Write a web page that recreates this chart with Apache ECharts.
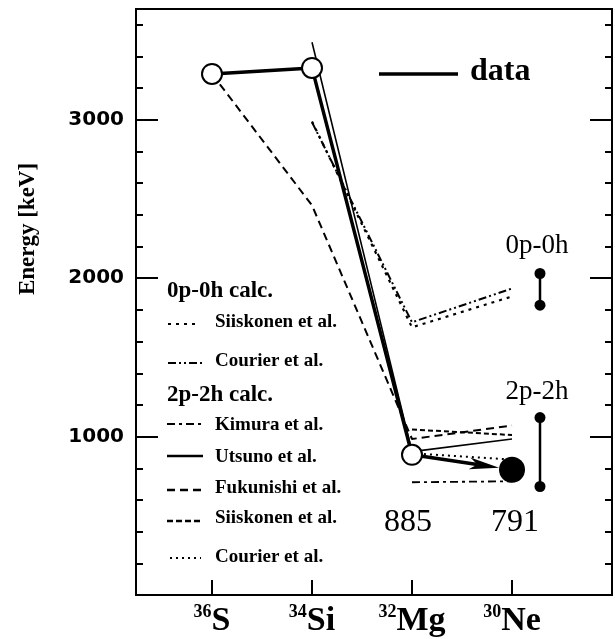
<!DOCTYPE html>
<html>
<head>
<meta charset="utf-8">
<script src="https://cdn.jsdelivr.net/npm/echarts@6/dist/echarts.min.js"></script>
<style>
  html, body { margin: 0; padding: 0; background: #fff; }
  #main { width: 615px; height: 639px; }
</style>
</head>
<body>
<div id="main"></div>
<script>
// nuclei along the x axis (mass number + element)
const massNumbers = ['36', '34', '32', '30'];
const elements = ['S', 'Si', 'Mg', 'Ne'];
const xPos = [1, 2, 3, 4];

// experimental 2+ energies (keV)
const dataExp = [3290, 3328, 885, 791];

// 0p-0h calculations
const siiskonen0 = [null, 2990, 1690, 1885];
const courier0 = [null, 2985, 1722, 1935];

// 2p-2h calculations
const kimura2 = [null, null, 712, 718];
const utsuno2 = [null, 3490, 905, 985];
const fukunishi2 = [3290, 2460, 985, 1070];
const siiskonen2 = [null, null, 1045, 1010];
const courier2 = [null, null, 895, 855];

// ranges drawn right of 30Ne
const range0p0h = [2030, 1830];
const range2p2h = [1120, 685];
const rangeX = 4.28;

const yMajorTicks = [1000, 2000, 3000];
const yMinorTicks = [200, 400, 600, 800, 1200, 1400, 1600, 1800, 2200, 2400, 2600, 2800, 3200, 3400, 3600];

const serif = "'Liberation Serif', 'DejaVu Serif', serif";
const neSize = 26;

function pairs(vals) {
  return vals.map((v, i) => v == null ? null : [xPos[i], v]).filter(Boolean);
}

function calcLine(vals, dash, width) {
  return {
    type: 'line',
    data: pairs(vals),
    symbol: 'none',
    silent: true,
    z: 2,
    lineStyle: { color: '#000', width: width, type: dash }
  };
}

const chart = echarts.init(document.getElementById('main'));

const yBase = { type: 'value', min: 0, max: 3700, splitLine: { show: false } };

const option = {
  animation: false,
  grid: { left: 136, right: 3, top: 9, bottom: 44, show: true, borderColor: '#000', borderWidth: 2 },
  xAxis: [
    {
      type: 'value', min: 0.24, max: 5, position: 'bottom',
      splitLine: { show: false },
      axisLine: { lineStyle: { color: '#000', width: 2 } },
      axisTick: { inside: true, length: 15, customValues: xPos, lineStyle: { color: '#000', width: 2 } },
      axisLabel: {
        customValues: xPos,
        margin: 8,
        formatter: function (v) {
          const i = xPos.indexOf(v);
          return '{sup|' + massNumbers[i] + '}{el|' + elements[i] + '}';
        },
        rich: {
          sup: { fontFamily: serif, fontWeight: 'bold', fontSize: 18, color: '#000', verticalAlign: 'top', lineHeight: 36 },
          el: { fontFamily: serif, fontWeight: 'bold', fontSize: 34, color: '#000', lineHeight: 36 }
        }
      }
    }
  ],
  yAxis: [
    Object.assign({}, yBase, {
      position: 'left',
      axisLine: { show: true, lineStyle: { color: '#000', width: 2 } },
      axisTick: { inside: true, length: 22, customValues: yMajorTicks, lineStyle: { color: '#000', width: 2 } },
      axisLabel: {
        customValues: yMajorTicks, margin: 12, color: '#000',
        formatter: function (v) { return String(v); },
        fontFamily: "'DejaVu Sans', sans-serif", fontWeight: 'bold', fontSize: 20
      }
    }),
    Object.assign({}, yBase, {
      position: 'left',
      axisLine: { show: false },
      axisTick: { inside: true, length: 7, customValues: yMinorTicks, lineStyle: { color: '#000', width: 2 } },
      axisLabel: { show: false }
    }),
    Object.assign({}, yBase, {
      position: 'right',
      axisLine: { show: true, lineStyle: { color: '#000', width: 2 } },
      axisTick: { inside: true, length: 22, customValues: yMajorTicks, lineStyle: { color: '#000', width: 2 } },
      axisLabel: { show: false }
    }),
    Object.assign({}, yBase, {
      position: 'right',
      axisLine: { show: false },
      axisTick: { inside: true, length: 7, customValues: yMinorTicks, lineStyle: { color: '#000', width: 2 } },
      axisLabel: { show: false }
    })
  ],
  series: [
    calcLine(siiskonen0, [3, 5], 2.2),
    calcLine(courier0, [8, 3, 2, 3, 2, 3], 2),
    calcLine(kimura2, [8, 4, 3, 4], 1.8),
    calcLine(utsuno2, 'solid', 1.6),
    calcLine(fukunishi2, [8, 5], 2),
    calcLine(siiskonen2, [5, 3], 2),
    calcLine(courier2, [2, 4], 2),
    // experimental data 36S -> 34Si -> 32Mg
    {
      type: 'line',
      z: 5,
      silent: true,
      data: pairs(dataExp.slice(0, 3)).map((p, i) => i === 2 ? {
        value: p,
        label: {
          show: true, position: 'bottom', distance: 41, offset: [-4, 0],
          formatter: String(dataExp[2]), fontFamily: serif, fontSize: 32, color: '#000'
        }
      } : p),
      symbol: 'circle',
      symbolSize: 20,
      itemStyle: { color: '#fff', borderColor: '#000', borderWidth: 2 },
      lineStyle: { color: '#000', width: 3.5 }
    },
    // arrow 32Mg -> 30Ne
    {
      type: 'custom',
      z: 5,
      silent: true,
      data: [[xPos[2], dataExp[2], xPos[3], dataExp[3]]],
      renderItem: function (params, api) {
        const a = api.coord([api.value(0), api.value(1)]);
        const b = api.coord([api.value(2), api.value(3)]);
        const dx = b[0] - a[0], dy = b[1] - a[1];
        const len = Math.sqrt(dx * dx + dy * dy);
        const ux = dx / len, uy = dy / len;
        const tip = [b[0] - ux * neSize / 2, b[1] - uy * neSize / 2];
        const back = 30, notch = 22, half = 6;
        const nx = -uy, ny = ux;
        const base = [tip[0] - ux * back, tip[1] - uy * back];
        const mid = [tip[0] - ux * notch, tip[1] - uy * notch];
        return {
          type: 'group',
          children: [
            {
              type: 'line',
              shape: { x1: a[0], y1: a[1], x2: mid[0], y2: mid[1] },
              style: { stroke: '#000', lineWidth: 3.5 }
            },
            {
              type: 'polygon',
              shape: { points: [tip, [base[0] + nx * half, base[1] + ny * half], mid, [base[0] - nx * half, base[1] - ny * half]] },
              style: { fill: '#000' }
            }
          ]
        };
      }
    },
    // 30Ne measured point
    {
      type: 'scatter',
      z: 6,
      silent: true,
      data: [{
        value: [xPos[3], dataExp[3]],
        label: {
          show: true, position: 'bottom', distance: 24, offset: [3, 0],
          formatter: String(dataExp[3]), fontFamily: serif, fontSize: 32, color: '#000'
        }
      }],
      symbol: 'circle',
      symbolSize: neSize,
      itemStyle: { color: '#000', opacity: 1 }
    },
    // 0p-0h range
    {
      type: 'line',
      silent: true,
      data: range0p0h.map((v, i) => i === 0 ? {
        value: [rangeX, v],
        label: { show: true, position: 'top', distance: 9, offset: [-3, 0], formatter: '0p-0h', fontFamily: serif, fontSize: 27, color: '#000' }
      } : [rangeX, v]),
      symbol: 'circle',
      symbolSize: 11,
      itemStyle: { color: '#000' },
      lineStyle: { color: '#000', width: 2.5 }
    },
    // 2p-2h range
    {
      type: 'line',
      silent: true,
      data: range2p2h.map((v, i) => i === 0 ? {
        value: [rangeX, v],
        label: { show: true, position: 'top', distance: 7, offset: [-3, 0], formatter: '2p-2h', fontFamily: serif, fontSize: 27, color: '#000' }
      } : [rangeX, v]),
      symbol: 'circle',
      symbolSize: 11,
      itemStyle: { color: '#000' },
      lineStyle: { color: '#000', width: 2.5 }
    }
  ],
  graphic: [
    // y axis title
    {
      type: 'text', x: 28, y: 229, rotation: Math.PI / 2,
      style: { text: 'Energy [keV]', font: 'bold 23px ' + serif, fill: '#000', align: 'center', verticalAlign: 'middle' }
    },
    // "data" key
    { type: 'line', shape: { x1: 379, y1: 74, x2: 458, y2: 74 }, style: { stroke: '#000', lineWidth: 3.5 } },
    { type: 'text', x: 470, y: 72, style: { text: 'data', font: 'bold 32px ' + serif, fill: '#000', verticalAlign: 'middle' } },
    // calc keys
    { type: 'text', x: 167, y: 291, style: { text: '0p-0h calc.', font: 'bold 23px ' + serif, fill: '#000', verticalAlign: 'middle' } },
    { type: 'line', shape: { x1: 168, y1: 324, x2: 199, y2: 324 }, style: { stroke: '#000', lineWidth: 2.2, lineDash: [3, 5] } },
    { type: 'text', x: 215, y: 322, style: { text: 'Siiskonen et al.', font: 'bold 19px ' + serif, fill: '#000', verticalAlign: 'middle' } },
    { type: 'line', shape: { x1: 168, y1: 363, x2: 205, y2: 363 }, style: { stroke: '#000', lineWidth: 2, lineDash: [8, 3, 2, 3, 2, 3] } },
    { type: 'text', x: 215, y: 361, style: { text: 'Courier et al.', font: 'bold 19px ' + serif, fill: '#000', verticalAlign: 'middle' } },
    { type: 'text', x: 167, y: 395, style: { text: '2p-2h calc.', font: 'bold 23px ' + serif, fill: '#000', verticalAlign: 'middle' } },
    { type: 'line', shape: { x1: 167, y1: 424, x2: 203, y2: 424 }, style: { stroke: '#000', lineWidth: 1.8, lineDash: [8, 4, 3, 4] } },
    { type: 'text', x: 215, y: 425, style: { text: 'Kimura et al.', font: 'bold 19px ' + serif, fill: '#000', verticalAlign: 'middle' } },
    { type: 'line', shape: { x1: 167, y1: 456, x2: 203, y2: 456 }, style: { stroke: '#000', lineWidth: 2.5 } },
    { type: 'text', x: 215, y: 457, style: { text: 'Utsuno et al.', font: 'bold 19px ' + serif, fill: '#000', verticalAlign: 'middle' } },
    { type: 'line', shape: { x1: 167, y1: 490, x2: 203, y2: 490 }, style: { stroke: '#000', lineWidth: 2.5, lineDash: [8, 5] } },
    { type: 'text', x: 215, y: 488, style: { text: 'Fukunishi et al.', font: 'bold 19px ' + serif, fill: '#000', verticalAlign: 'middle' } },
    { type: 'line', shape: { x1: 167, y1: 521, x2: 203, y2: 521 }, style: { stroke: '#000', lineWidth: 2.5, lineDash: [6, 3] } },
    { type: 'text', x: 215, y: 518, style: { text: 'Siiskonen et al.', font: 'bold 19px ' + serif, fill: '#000', verticalAlign: 'middle' } },
    { type: 'line', shape: { x1: 170, y1: 558, x2: 201, y2: 558 }, style: { stroke: '#000', lineWidth: 1.8, lineDash: [2, 4] } },
    { type: 'text', x: 215, y: 557, style: { text: 'Courier et al.', font: 'bold 19px ' + serif, fill: '#000', verticalAlign: 'middle' } }
  ]
};

chart.setOption(option);
window.addEventListener('resize', () => {
  chart.resize();
});
</script>
</body>
</html>
